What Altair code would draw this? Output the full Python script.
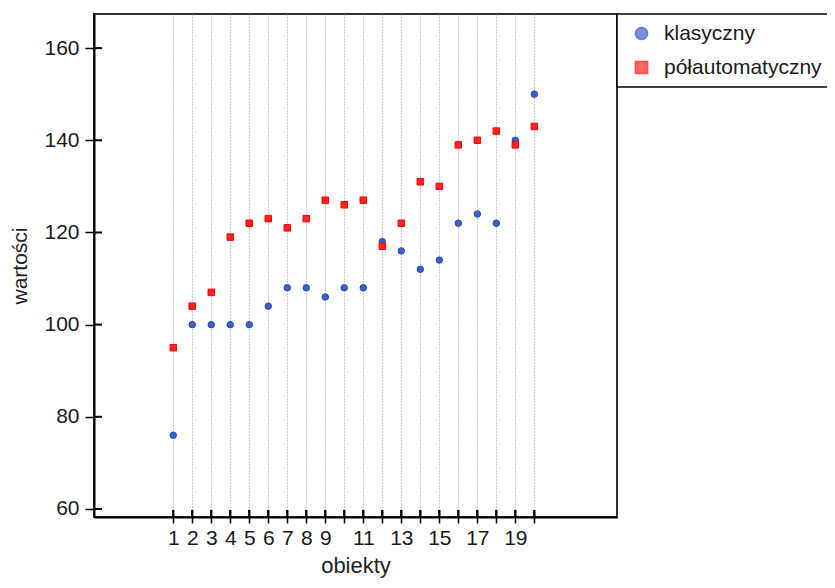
import altair as alt
import pandas as pd

# ---- data ----
objects = list(range(1, 21))
klasyczny = [76, 100, 100, 100, 100, 104, 108, 108, 106, 108,
             108, 118, 116, 112, 114, 122, 124, 122, 140, 150]
polautomatyczny = [95, 104, 107, 119, 122, 123, 121, 123, 127, 126,
                   127, 117, 122, 131, 130, 139, 140, 142, 139, 143]
series_names = ["klasyczny", "półautomatyczny"]
y_ticks = [60, 80, 100, 120, 140, 160]

W, H = 523, 503
XDOM = [-3.17, 24.35]
YDOM = [58.26, 167.4]

df = pd.DataFrame({
    "obiekt": objects + objects,
    "wartosc": klasyczny + polautomatyczny,
    "seria": [series_names[0]] * len(objects) + [series_names[1]] * len(objects),
})
ydf = pd.DataFrame({"wartosc": y_ticks})

xscale = alt.Scale(domain=XDOM, nice=False, zero=False)
yscale = alt.Scale(domain=YDOM, nice=False, zero=False)

TXT_FONT = "Liberation Sans, Arial"

points = alt.Chart(df).mark_point(filled=True, size=42, strokeWidth=1, opacity=1).encode(
    x=alt.X("obiekt:Q", scale=xscale, title="obiekty",
            axis=alt.Axis(values=objects, grid=True, gridDash=[1, 2], gridColor="#9a9a9a",
                          gridWidth=1, orient="bottom",
                          labelExpr="datum.value <= 9 || datum.value % 2 == 1 ? datum.label : ''",
                          labelOverlap=False, labelFlush=False,
                          tickSize=6, labelPadding=4, titlePadding=7, titleFontSize=22)),
    y=alt.Y("wartosc:Q", scale=yscale, title="wartości",
            axis=alt.Axis(values=y_ticks, grid=False, tickSize=9, labelPadding=6, orient="left",
                          titlePadding=13, titleFontSize=21)),
    fill=alt.Fill("seria:N", scale=alt.Scale(domain=series_names, range=["#3a5fcd", "#ff2424"]),
                  title=None),
    stroke=alt.Stroke("seria:N", scale=alt.Scale(domain=series_names, range=["#2a48b0", "#ff0000"]),
                      title=None),
    shape=alt.Shape("seria:N", scale=alt.Scale(domain=series_names, range=["circle", "square"]),
                    title=None),
)

# inner halves of the axis ticks (vertical rules at each object, horizontal at each y tick)
xticks_in = alt.Chart(df).mark_rule(color="black", strokeWidth=2).encode(
    x=alt.X("obiekt:Q", axis=None),
    y=alt.value(H - 7), y2=alt.value(H))

yticks_in = alt.Chart(ydf).mark_rule(color="black", strokeWidth=2).encode(
    y=alt.Y("wartosc:Q", axis=None),
    x=alt.value(0), x2=alt.value(8))

chart = alt.layer(points, xticks_in, yticks_in).resolve_axis(
    x="independent", y="independent"
).properties(
    width=W, height=H,
    autosize=alt.AutoSizeParams(type="none"),
    padding={"left": 86, "top": 6, "right": 210, "bottom": 63},
    background="white",
).configure_view(
    stroke="#333333", strokeWidth=2
).configure_axis(
    domainColor="black", domainWidth=2,
    tickColor="black", tickWidth=1.5,
    labelFont=TXT_FONT, labelFontSize=21, labelColor="#1a1a1a",
    titleFont=TXT_FONT, titleFontWeight="normal", titleColor="#222222",
).configure_legend(
    orient="none", legendX=W, legendY=0,
    padding=9, strokeColor="black", strokeWidth=1.5, fillColor="white",
    symbolSize=150, symbolStrokeWidth=1.5, symbolOpacity=0.7, symbolOffset=5,
    labelFont=TXT_FONT, labelFontSize=21, labelColor="#1a1a1a", labelOffset=12,
    labelLimit=400, rowPadding=12,
)

chart.save("out.html", embed_options={"renderer": "svg", "actions": False})
